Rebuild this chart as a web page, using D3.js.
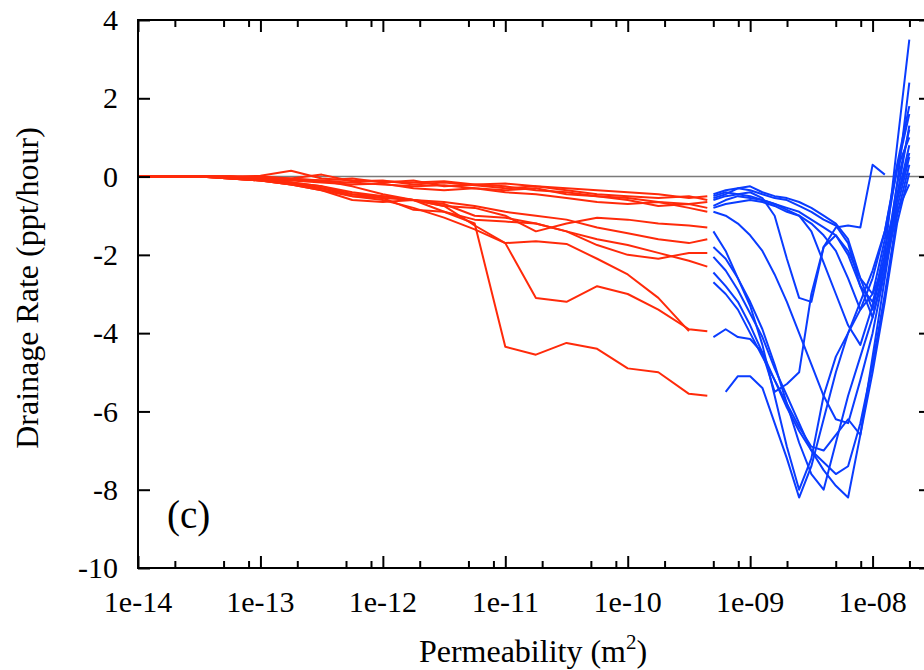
<!DOCTYPE html>
<html>
<head>
<meta charset="utf-8">
<script src="https://cdn.jsdelivr.net/npm/d3@7"></script>
<style>
  body { margin: 0; background: #fff; }
  svg { display: block; }
  text { font-family: "Liberation Serif", "DejaVu Serif", serif; fill: #000; }
</style>
</head>
<body>
<svg id="chart" width="924" height="670"></svg>
<script>
// x positions are log10 of permeability (m^2)
var redGrid = [-14, -13.75, -13.5, -13.25, -13, -12.75, -12.5, -12.25, -12, -11.75,
               -11.5, -11.25, -11, -10.75, -10.5, -10.25, -10, -9.75, -9.5, -9.35];
var blueGrid = [-9.3, -9.2, -9.1, -9.0, -8.9, -8.8, -8.7, -8.6, -8.5, -8.4,
                -8.3, -8.2, -8.1, -8.0, -7.9, -7.8, -7.7];

// Drainage rate (ppt/hour), one array per run
var redRuns = [
  [0, 0, 0.01, 0, 0.02, 0.15, -0.05, -0.1, -0.12, -0.15, -0.12, -0.2, -0.18, -0.25, -0.3, -0.35, -0.4, -0.45, -0.55, -0.5],
  [0, 0, 0, -0.02, 0, -0.05, 0.05, -0.12, -0.1, -0.2, -0.15, -0.22, -0.3, -0.25, -0.35, -0.45, -0.5, -0.55, -0.5, -0.6],
  [0, 0, 0, 0, -0.03, -0.06, -0.1, -0.05, -0.15, -0.1, -0.25, -0.2, -0.25, -0.35, -0.4, -0.5, -0.55, -0.65, -0.7, -0.65],
  [0, 0, 0, -0.02, -0.05, -0.08, -0.12, -0.15, -0.2, -0.25, -0.22, -0.3, -0.35, -0.3, -0.45, -0.5, -0.6, -0.75, -0.7, -0.8],
  [0, 0, 0, 0, -0.05, -0.1, -0.15, -0.2, -0.18, -0.3, -0.35, -0.3, -0.4, -0.45, -0.55, -0.65, -0.7, -0.65, -0.8, -0.9],
  [0, 0, 0, -0.05, -0.1, -0.2, -0.3, -0.5, -0.55, -0.6, -0.75, -0.8, -1.0, -1.4, -1.2, -1.05, -1.1, -1.2, -1.25, -1.3],
  [0, 0, 0, 0, -0.05, -0.15, -0.3, -0.45, -0.5, -0.6, -0.65, -0.75, -0.9, -1.0, -1.1, -1.3, -1.45, -1.6, -1.7, -1.6],
  [0, 0, 0, -0.05, -0.1, -0.2, -0.35, -0.6, -0.65, -0.6, -0.7, -1.0, -1.05, -1.2, -1.4, -1.75, -2.0, -2.1, -1.95, -1.95],
  [0, 0, 0, -0.05, -0.1, -0.15, -0.25, -0.45, -0.55, -0.85, -0.9, -1.1, -1.15, -1.2, -1.4, -1.6, -1.75, -1.95, -2.15, -2.3],
  [0, 0, 0, -0.02, -0.05, -0.15, -0.25, -0.4, -0.5, -0.6, -0.75, -1.25, -1.7, -3.1, -3.2, -2.8, -3.0, -3.4, -3.9, -3.95],
  [0, 0, 0, -0.05, -0.1, -0.2, -0.35, -0.5, -0.6, -0.8, -1.05, -1.35, -1.7, -1.65, -1.72, -2.1, -2.5, -3.1, -3.95, null],
  [0, 0, 0, 0, -0.02, -0.05, -0.1, -0.25, -0.45, -0.6, -0.9, -1.2, -4.35, -4.55, -4.25, -4.4, -4.9, -5.0, -5.55, -5.6]
];
var blueRuns = [
  [-0.45, -0.35, -0.3, -0.25, -0.4, -0.5, -0.55, -0.65, -0.8, -1.0, -1.2, -1.6, -2.6, -3.4, -2.0, 0.8, 3.5],
  [-0.55, -0.45, -0.3, -0.35, -0.45, -0.55, -0.6, -0.75, -0.9, -1.1, -1.25, -1.7, -2.8, -3.6, -2.4, -0.2, 2.4],
  [-0.5, -0.4, -0.45, -0.4, -0.55, -1.0, -2.1, -3.1, -3.2, -1.8, -1.3, -1.25, -1.3, 0.3, 0.05, null, null],
  [-0.6, -0.5, -0.45, -0.5, -0.6, -0.7, -0.8, -0.9, -1.1, -1.3, -1.5, -2.0, -2.8, -3.2, -2.2, -0.5, 1.3],
  [-0.8, -0.7, -0.65, -0.6, -0.65, -0.75, -0.9, -1.0, -1.2, -1.5, -1.9, -2.6, -3.4, -3.0, -1.6, 0.2, 1.0],
  [-0.75, -0.6, -0.5, -0.55, -0.6, -0.7, -0.85, -1.0, -1.4, -2.2, -3.0, -3.8, -4.3, -3.3, -1.8, -0.6, 0.6],
  [-1.4, -1.9, -2.6, -3.3, -4.3, -5.6, -6.9, -8.0, -7.2, -5.6, -4.6, -4.0, -3.4, -2.6, -1.4, 0.3, 1.8],
  [-1.8, -2.1, -2.6, -3.2, -3.9, -4.8, -5.8, -6.8, -7.6, -8.0, -6.8, -5.6, -4.6, -3.6, -2.2, -0.2, 1.2],
  [-2.05, -2.4, -2.9, -3.5, -4.1, -4.9, -5.6, -6.3, -7.0, -7.5, -7.9, -8.2, -6.6, -4.6, -2.6, -0.6, 0.8],
  [-2.45, -2.8, -3.2, -3.8, -4.5, -5.2, -5.9, -6.5, -7.0, -7.3, -7.6, -7.4, -6.3, -4.8, -3.0, -1.0, 0.3],
  [-4.1, -3.9, -4.1, -4.15, -4.5, -5.5, -5.3, -5.0, -3.0, -1.8, -1.5, -1.9, -2.6, -3.0, -2.2, -0.8, 0.5],
  [null, -5.5, -5.1, -5.1, -5.4, -6.3, -7.2, -8.2, -7.4, -6.2, -5.0, -4.0, -3.2, -2.4, -1.4, 0.2, 1.6],
  [-2.7, -3.0, -3.4, -4.0, -4.6, -5.2, -5.8, -6.4, -6.9, -7.0, -6.6, -6.2, -6.6, -5.0, -3.2, -1.2, 0.1],
  [-0.9, -1.0, -1.2, -1.5, -1.9, -2.5, -3.2, -4.0, -4.8, -5.6, -6.2, -6.3, -5.2, -4.0, -2.4, -0.9, -0.2]
];

var xTickValues = [1e-14, 1e-13, 1e-12, 1e-11, 1e-10, 1e-9, 1e-8];
var xTickLabels = ["1e-14", "1e-13", "1e-12", "1e-11", "1e-10", "1e-09", "1e-08"];
var yTickValues = [4, 2, 0, -2, -4, -6, -8, -10];

// plot box in pixels (the right edge sits just past the picture)
var plotLeft = 138, plotRight = 931, plotTop = 20, plotBottom = 568;

var svg = d3.select("#chart");

var x = d3.scaleLog().domain([1e-14, 3e-8]).range([plotLeft, plotRight]);
var y = d3.scaleLinear().domain([-10, 4]).range([plotBottom, plotTop]);

// minor ticks at 2, 5, 8 of each decade
var minorTicks = [];
for (var e = -14; e <= -8; e++) {
  [2, 5, 8].forEach(function (m) {
    var v = m * Math.pow(10, e);
    if (v < 3e-8) minorTicks.push(v);
  });
}

svg.append("defs").append("clipPath").attr("id", "plot-clip")
  .append("rect").attr("x", plotLeft).attr("y", plotTop)
  .attr("width", plotRight - plotLeft).attr("height", plotBottom - plotTop);

// zero line
svg.append("line")
  .attr("x1", plotLeft).attr("x2", plotRight)
  .attr("y1", y(0)).attr("y2", y(0))
  .attr("stroke", "#7a7a7a").attr("stroke-width", 1.5);

var line = d3.line()
  .defined(function (d) { return d[1] !== null; })
  .x(function (d) { return x(Math.pow(10, d[0])); })
  .y(function (d) { return y(d[1]); });

var plot = svg.append("g").attr("clip-path", "url(#plot-clip)");

function drawRuns(runs, grid, color) {
  plot.append("g").selectAll("path")
    .data(runs).enter()
    .append("path")
    .attr("d", function (r) { return line(grid.map(function (g, i) { return [g, r[i]]; })); })
    .attr("fill", "none")
    .attr("stroke", color)
    .attr("stroke-width", 2)
    .attr("stroke-linejoin", "round");
}

drawRuns(redRuns, redGrid, "#ff2a0a");
drawRuns(blueRuns, blueGrid, "#0a3cff");

// frame
svg.append("rect")
  .attr("x", plotLeft).attr("y", plotTop)
  .attr("width", plotRight - plotLeft).attr("height", plotBottom - plotTop)
  .attr("fill", "none").attr("stroke", "#000").attr("stroke-width", 2);

// ticks point inward, mirrored on top and right
function tickStyle(g) {
  g.select(".domain").remove();
  g.selectAll("line").attr("stroke", "#000").attr("stroke-width", 2);
}

svg.append("g").attr("transform", "translate(0," + plotBottom + ")")
  .call(d3.axisTop(x).tickValues(xTickValues).tickSize(12).tickFormat(""))
  .call(tickStyle);
svg.append("g").attr("transform", "translate(0," + plotBottom + ")")
  .call(d3.axisTop(x).tickValues(minorTicks).tickSize(7).tickFormat(""))
  .call(tickStyle);
svg.append("g").attr("transform", "translate(0," + plotTop + ")")
  .call(d3.axisBottom(x).tickValues(xTickValues).tickSize(12).tickFormat(""))
  .call(tickStyle);
svg.append("g").attr("transform", "translate(0," + plotTop + ")")
  .call(d3.axisBottom(x).tickValues(minorTicks).tickSize(7).tickFormat(""))
  .call(tickStyle);
svg.append("g").attr("transform", "translate(" + plotLeft + ",0)")
  .call(d3.axisRight(y).tickValues(yTickValues).tickSize(12).tickFormat(""))
  .call(tickStyle);
svg.append("g").attr("transform", "translate(" + plotRight + ",0)")
  .call(d3.axisLeft(y).tickValues(yTickValues).tickSize(12).tickFormat(""))
  .call(tickStyle);

var fontSize = 30, titleSize = 32;

// tick labels
svg.append("g").selectAll("text")
  .data(xTickValues).enter()
  .append("text")
  .attr("x", function (d) { return x(d); })
  .attr("y", 612)
  .attr("text-anchor", "middle")
  .style("font-size", fontSize + "px")
  .text(function (d, i) { return xTickLabels[i]; });

svg.append("g").selectAll("text")
  .data(yTickValues).enter()
  .append("text")
  .attr("x", 118)
  .attr("y", function (d) { return y(d); })
  .attr("dy", "0.34em")
  .attr("text-anchor", "end")
  .style("font-size", fontSize + "px")
  .text(function (d) { return d; });

// axis titles
var xt = svg.append("text")
  .attr("x", 533).attr("y", 662)
  .attr("text-anchor", "middle")
  .style("font-size", titleSize + "px");
xt.append("tspan").text("Permeability (m");
xt.append("tspan").attr("dy", -13).style("font-size", "21px").text("2");
xt.append("tspan").attr("dy", 13).text(")");

svg.append("text")
  .attr("transform", "translate(38,288) rotate(-90)")
  .attr("text-anchor", "middle")
  .style("font-size", titleSize + "px")
  .text("Drainage Rate (ppt/hour)");

// panel label
svg.append("text")
  .attr("x", 167).attr("y", 528)
  .style("font-size", "39px")
  .text("(c)");
</script>
</body>
</html>
